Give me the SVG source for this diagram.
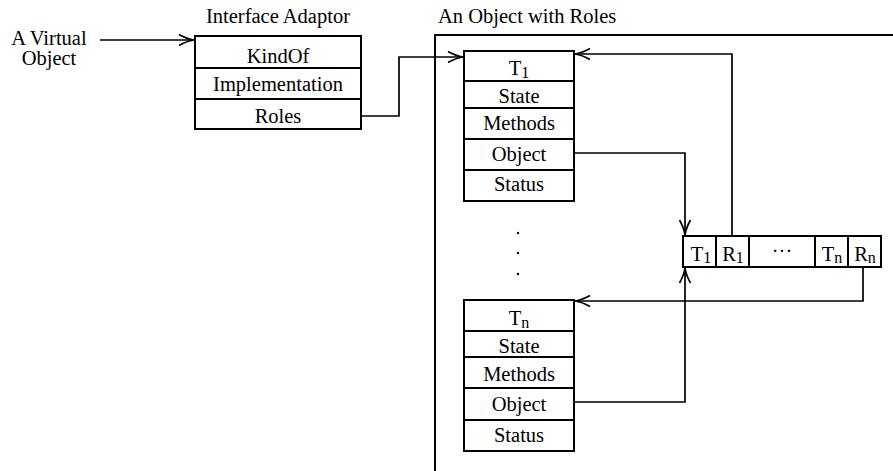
<svg xmlns="http://www.w3.org/2000/svg" width="893" height="471" viewBox="0 0 893 471">
  <style>
    text { font-family: "Liberation Serif", "Times New Roman", serif; font-size: 20.5px; fill: #000; }
    .c { text-anchor: middle; }
    .sub { font-size: 16px; }
    .box { fill: #fff; stroke: #000; stroke-width: 2; }
    .div { stroke: #000; stroke-width: 2; fill: none; }
    .wire { fill: none; stroke: #000; stroke-width: 1.7; marker-end: url(#arrow); }
  </style>
  <defs>
    <marker id="arrow" viewBox="-17 -7 18 14" markerWidth="18" markerHeight="14" refX="0" refY="0" orient="auto" markerUnits="userSpaceOnUse">
      <path d="M-15,-5.5 Q-7,-1 0,0 Q-7,1 -15,5.5" fill="none" stroke="#000" stroke-width="1.7"/>
    </marker>
  </defs>

  <!-- labels -->
  <g id="virtual-object">
    <text x="49" y="44.5" class="c">A Virtual</text>
    <text x="49" y="64.5" class="c">Object</text>
  </g>

  <!-- container for the object and its roles -->
  <g id="object-with-roles">
    <text x="438" y="23">An Object with Roles</text>
    <path d="M893,35 H435 V471" class="div"/>
  </g>

  <!-- interface adaptor record -->
  <g id="interface-adaptor">
    <text x="278" y="23" class="c">Interface Adaptor</text>
    <rect x="195" y="36" width="166" height="93" class="box"/>
    <path d="M195,68 H361 M195,99 H361" class="div"/>
    <text x="278" y="63" class="c">KindOf</text>
    <text x="278" y="91" class="c">Implementation</text>
    <text x="278" y="123" class="c">Roles</text>
  </g>

  <!-- role record T1 -->
  <g id="role-t1">
    <rect x="464" y="51" width="110" height="150" class="box"/>
    <path d="M464,81 H574 M464,108 H574 M464,139 H574 M464,170 H574" class="div"/>
    <text x="519" y="75" class="c">T<tspan class="sub" dy="3">1</tspan></text>
    <text x="519" y="103" class="c">State</text>
    <text x="519" y="130" class="c">Methods</text>
    <text x="519" y="161" class="c">Object</text>
    <text x="519" y="191" class="c">Status</text>
  </g>

  <!-- elision dots -->
  <g id="ellipsis">
    <circle cx="518" cy="233" r="1.2" fill="#000"/>
    <circle cx="518" cy="253" r="1.2" fill="#000"/>
    <circle cx="518" cy="274" r="1.2" fill="#000"/>
  </g>

  <!-- role record Tn -->
  <g id="role-tn">
    <rect x="464" y="300" width="110" height="151" class="box"/>
    <path d="M464,331 H574 M464,357 H574 M464,388 H574 M464,420 H574" class="div"/>
    <text x="519" y="325" class="c">T<tspan class="sub" dy="3">n</tspan></text>
    <text x="519" y="353" class="c">State</text>
    <text x="519" y="381" class="c">Methods</text>
    <text x="519" y="411" class="c">Object</text>
    <text x="519" y="442" class="c">Status</text>
  </g>

  <!-- type/role table -->
  <g id="role-table">
    <rect x="683" y="236" width="198" height="31" class="box"/>
    <path d="M716,236 V267 M749,236 V267 M815,236 V267 M848,236 V267" class="div"/>
    <text x="701" y="260.5" class="c">T<tspan class="sub" dy="2">1</tspan></text>
    <text x="733" y="260.5" class="c">R<tspan class="sub" dy="2">1</tspan></text>
    <text x="782" y="258" class="c">···</text>
    <text x="832" y="260.5" class="c">T<tspan class="sub" dy="2">n</tspan></text>
    <text x="865" y="260.5" class="c">R<tspan class="sub" dy="2">n</tspan></text>
  </g>

  <!-- connectors -->
  <g id="connectors">
    <path d="M100,40 H194" class="wire"/>
    <path d="M361,116 H399 V57 H463" class="wire"/>
    <path d="M574,153 H685 V235" class="wire"/>
    <path d="M732,236 V54 H575" class="wire"/>
    <path d="M574,402 H685 V268" class="wire"/>
    <path d="M863,267 V301 H575" class="wire"/>
  </g>
</svg>
